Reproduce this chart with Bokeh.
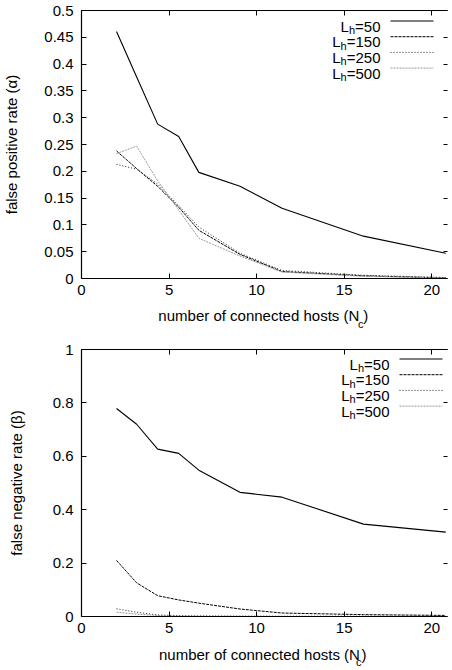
from bokeh.plotting import figure
from bokeh.layouts import column
from bokeh.models import (LinearAxis, FixedTicker, Range1d, Label, Arrow,
                          CustomLabelingPolicy, AllLabels)
from bokeh.embed import file_html
from bokeh.resources import INLINE

# ---------------- data ----------------
nc = [2, 3.15, 4.35, 5.55, 6.7, 9.05, 11.45, 16.1, 20.8]

fp50 = [0.461, 0.376, 0.288, 0.265, 0.198, 0.172, 0.131, 0.079, 0.047]
fp150 = [0.238, 0.205, 0.172, 0.133, 0.090, 0.045, 0.013, 0.005, 0.001]
fp250 = [0.213, 0.204, 0.176, 0.136, 0.096, 0.047, 0.015, 0.006, 0.002]
fp500 = [0.233, 0.247, 0.182, 0.128, 0.075, 0.042, 0.012, 0.004, 0.001]

fn50 = [0.779, 0.720, 0.627, 0.611, 0.548, 0.465, 0.447, 0.346, 0.316]
fn150 = [0.210, 0.126, 0.078, 0.062, 0.050, 0.028, 0.013, 0.007, 0.004]
fn250 = [0.029, 0.016, 0.006, 0.003, 0.002, 0.001, 0.001, 0.001, 0.001]
fn500 = [0.016, 0.009, 0.004, 0.002, 0.001, 0.001, 0.000, 0.000, 0.000]

series_names = ["50", "150", "250", "500"]

x_ticks = [0, 5, 10, 15, 20]
x_tick_labels = ["0", "5\u200b", "10", "15", "20"]
fp_ticks = [0, 0.05, 0.1, 0.15, 0.2, 0.25, 0.3, 0.35, 0.4, 0.45, 0.5]
fp_tick_labels = ["0", "0.05", "0.1", "0.15", "0.2", "0.25", "0.3", "0.35", "0.4", "0.45", "0.5"]
fn_ticks = [0, 0.2, 0.4, 0.6, 0.8, 1.0]
fn_tick_labels = ["0", "0.2", "0.4", "0.6", "0.8", "1"]

x_title_main = "number of connected hosts (N"
x_title_sub = "c"
x_title_end = ")"

# ---------------- styles ----------------
FONT = "Liberation Sans"
FS = 15
SUB_FS = 11
WIDTH = 452
styles = [
    dict(line_color="black", line_dash="solid", line_width=1.1),
    dict(line_color="black", line_dash="3 1", line_width=1.0),
    dict(line_color="#222222", line_dash="1 2", line_width=1.0),
    dict(line_color="#999999", line_dash="2 1", line_width=1.0),
]
X_END = 20.9

W = {c: 0.556 for c in "abdeghnopqu0123456789"}
W.update({"c": 0.5, "s": 0.5, "k": 0.5, "v": 0.5, "x": 0.5, "y": 0.5, "z": 0.5,
          "f": 0.278, "t": 0.278, "i": 0.222, "l": 0.222, "j": 0.222, "r": 0.333,
          "m": 0.833, "w": 0.722, " ": 0.278, "(": 0.333, ")": 0.333, "N": 0.722,
          "L": 0.556, "=": 0.584})


def tw(s, fs):
    return sum(W.get(ch, 0.556) for ch in s) * fs


def no_labels():
    return CustomLabelingPolicy(code="""
        for (const i of indices)
            indices.unset(i)
        return indices
    """)


def text_axis(ticks, labels, fs, standoff):
    return LinearAxis(ticker=FixedTicker(ticks=ticks),
                      major_label_overrides={t: l for t, l in zip(ticks, labels)},
                      major_label_policy=AllLabels(),
                      major_tick_in=0, major_tick_out=0, major_tick_line_color=None,
                      minor_tick_line_color=None, axis_line_color=None,
                      major_label_text_font=FONT, major_label_text_font_size=f"{fs}px",
                      major_label_text_color="black", major_label_standoff=standoff)


def make_panel(ys, yticks, ylabels, ytitle, left, top, fh, height, ylab_standoff,
               title_center, title_standoff, sub_standoff):
    fw = WIDTH - left
    ymax = yticks[-1]
    p = figure(width=WIDTH, height=height, output_backend="svg",
               toolbar_location=None, x_range=Range1d(0, X_END),
               y_range=Range1d(yticks[0], ymax),
               min_border_left=left, min_border_right=0,
               min_border_top=top, min_border_bottom=height - top - fh)
    p.outline_line_color = None
    p.grid.visible = False

    for y, st in zip(ys, styles):
        p.line(nc, y, **st)

    xa = p.xaxis[0]
    ya = p.yaxis[0]
    for ax in (xa, ya):
        ax.major_tick_in = 5
        ax.major_tick_out = 0
        ax.minor_tick_line_color = None
        ax.axis_line_color = "black"
        ax.axis_line_width = 1.2
        ax.major_tick_line_color = "black"
        ax.major_label_text_font = FONT
        ax.major_label_text_font_size = f"{FS}px"
        ax.major_label_text_color = "black"
        ax.major_label_policy = AllLabels()
    xa.ticker = FixedTicker(ticks=x_ticks)
    xa.major_label_overrides = {t: l for t, l in zip(x_ticks, x_tick_labels)}
    xa.major_label_standoff = 2
    ya.ticker = FixedTicker(ticks=yticks)
    ya.major_label_overrides = {t: l for t, l in zip(yticks, ylabels)}
    ya.major_label_standoff = 8
    ya.axis_label = ytitle
    ya.axis_label_text_font = FONT
    ya.axis_label_text_font_size = f"{FS}px"
    ya.axis_label_text_font_style = "normal"
    ya.axis_label_text_color = "black"
    ya.axis_label_standoff = ylab_standoff

    # x title with subscript, drawn as labels of two extra tick-less axes
    scale = fw / X_END
    total = tw(x_title_main, FS) + tw(x_title_sub, SUB_FS) + tw(x_title_end, FS)
    start = title_center - total / 2
    c_main = start + tw(x_title_main, FS) / 2
    c_sub = start + tw(x_title_main, FS) + tw(x_title_sub, SUB_FS) / 2
    c_end = start + tw(x_title_main, FS) + tw(x_title_sub, SUB_FS) + tw(x_title_end, FS) / 2
    to_data = lambda px: (px - left) / scale
    p.add_layout(text_axis([to_data(c_main), to_data(c_end)], [x_title_main, x_title_end],
                           FS, title_standoff), "below")
    p.add_layout(text_axis([to_data(c_sub)], [x_title_sub], SUB_FS, sub_standoff), "below")

    # mirror axes: top border with ticks, right ticks only (cropped edge)
    top_ax = LinearAxis(ticker=FixedTicker(ticks=x_ticks), major_tick_in=5, major_tick_out=0,
                        minor_tick_line_color=None, major_label_text_font_size="1px",
                        major_label_standoff=0, major_label_policy=no_labels(),
                        axis_line_color="black", axis_line_width=1.2)
    p.add_layout(top_ax, "above")
    right_ax = LinearAxis(ticker=FixedTicker(ticks=yticks), major_tick_in=4, major_tick_out=0,
                          minor_tick_line_color=None, major_label_text_font_size="1px",
                          major_label_standoff=0, major_label_policy=no_labels(),
                          axis_line_color=None)
    p.add_layout(right_ax, "right")

    common = dict(x_units="screen", y_units="screen", text_font=FONT, text_color="black",
                  text_baseline="alphabetic")
    # gnuplot-style key: text right-aligned, sample to the right
    xr = fw - 72
    for i, (name, st) in enumerate(zip(series_names, styles)):
        yc = fh - (10.5 + 15.7 * i)
        ybl = yc - 5
        eq = "=" + name
        p.add_layout(Label(x=xr, y=ybl, text=eq, text_font_size=f"{FS}px",
                           text_align="right", **common))
        xh = xr - tw(eq, FS)
        p.add_layout(Label(x=xh, y=ybl - 4, text="h", text_font_size=f"{SUB_FS}px",
                           text_align="right", **common))
        xl = xh - tw("h", SUB_FS)
        p.add_layout(Label(x=xl, y=ybl, text="L", text_font_size=f"{FS}px",
                           text_align="right", **common))
        p.add_layout(Arrow(x_start=fw - 62, y_start=yc, x_end=fw - 19, y_end=yc,
                           start_units="screen", end_units="screen", end=None, start=None,
                           **st))
    return p


p1 = make_panel([fp50, fp150, fp250, fp500], fp_ticks, fp_tick_labels,
                "false positive rate (\u03b1)", left=81, top=10, fh=268, height=335,
                ylab_standoff=21, title_center=266, title_standoff=6, sub_standoff=-9)
p2 = make_panel([fn50, fn150, fn250, fn500], fn_ticks, fn_tick_labels,
                "false negative rate (\u03b2)", left=72, top=14, fh=268, height=335,
                ylab_standoff=25, title_center=262, title_standoff=7, sub_standoff=-10)

layout = column(p1, p2, spacing=0)
open("out.html", "w").write(file_html(layout, INLINE))
